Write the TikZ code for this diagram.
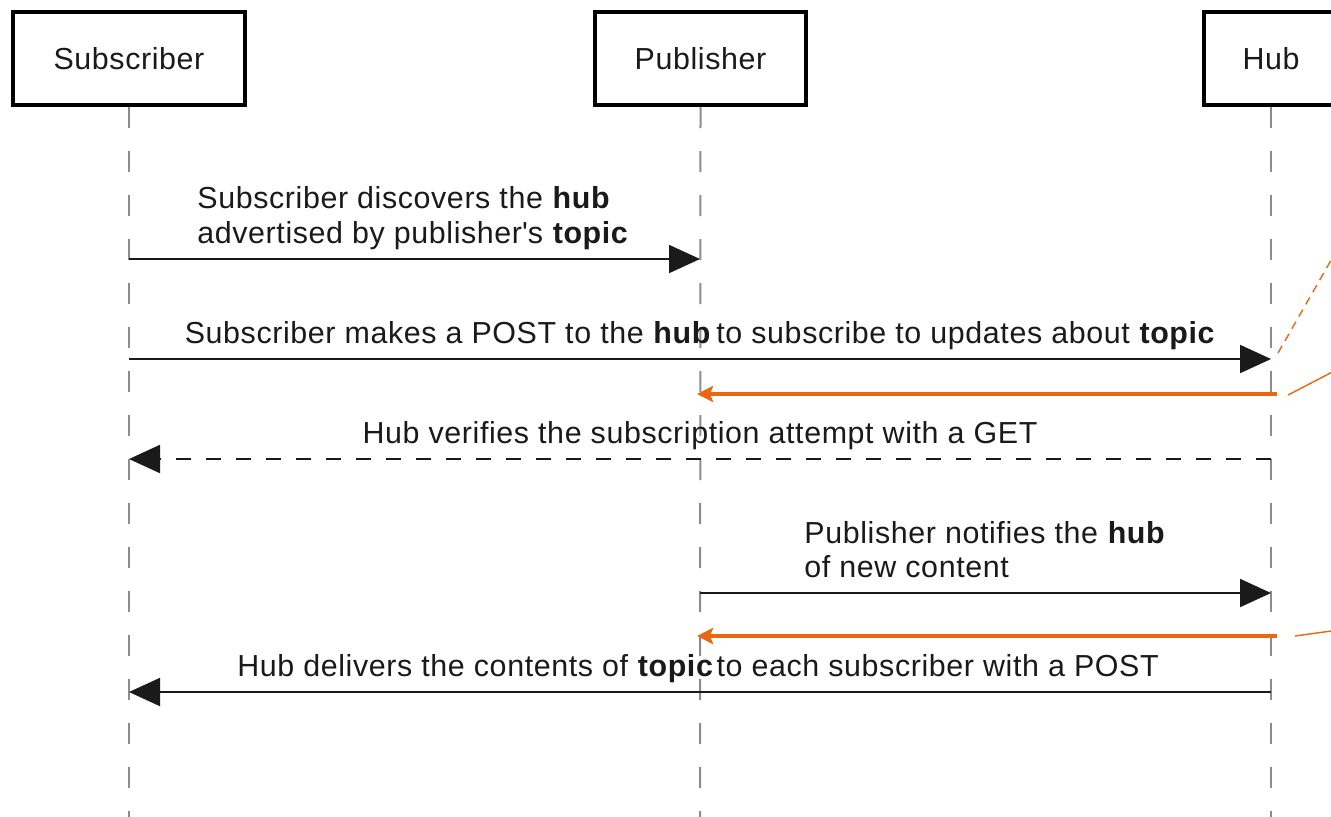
\documentclass[tikz,border=0pt]{standalone}
\usepackage{fontspec}
\setmainfont{Liberation Sans}[LetterSpace=2]
\usetikzlibrary{arrows.meta}
\definecolor{orng}{HTML}{EA6610}
\definecolor{lifegray}{HTML}{8C8C8C}
\definecolor{ink}{HTML}{1A1A1A}
\begin{document}
\begin{tikzpicture}[x=0.5pt,y=-0.5pt,
  actor/.style={draw=black, line width=2pt, fill=white, minimum height=46.5pt,
    inner sep=0pt, font=\fontsize{15.2}{17}\selectfont, text=ink},
  lifeline/.style={draw=lifegray, line width=1pt, dash pattern=on 10.5pt off 11.5pt},
  msg/.style={draw=ink, line width=1pt, -{Triangle[length=15.5pt,width=14pt]}},
  reply/.style={msg, dash pattern=on 7.5pt off 7.5pt},
  hot/.style={draw=orng, line width=1.7pt, -{Stealth[length=8pt,width=8pt,inset=1.5pt]}},
  note/.style={draw=orng, line width=0.7pt},
  lbl/.style={inner sep=0pt, font=\fontsize{15.2}{17}\selectfont, text=ink},
]
\clip (0,0) rectangle (1331,816);
\fill[white] (0,0) rectangle (1331,816);

% actors
\node[actor, minimum width=116pt] (sub) at (129,58.5) {Subscriber};
\node[actor, minimum width=105.5pt] (pub) at (700.5,58.5) {Publisher};
\node[actor, minimum width=67pt] (hub) at (1271,58.5) {Hub};

% lifeline ends
\coordinate (subE) at (129,830);
\coordinate (pubE) at (700,830);
\coordinate (hubE) at (1271,830);
\draw[lifeline] (sub.south) -- (subE);
\draw[lifeline] (pub.south) -- (pubE);
\draw[lifeline] (hub.south) -- (hubE);

% message anchor points
\coordinate (s1) at (129,259);  \coordinate (p1) at (700,259);
\coordinate (s2) at (129,359);  \coordinate (h2) at (1271,359);
\coordinate (h3) at (1277,394); \coordinate (p3) at (697,394);
\coordinate (s4) at (129,459);  \coordinate (h4) at (1271,459);
\coordinate (p5) at (700,593);  \coordinate (h5) at (1271,593);
\coordinate (h6) at (1277,636); \coordinate (p6) at (697,636);
\coordinate (s7) at (129,692);  \coordinate (h7) at (1271,692);

% 1
\node[lbl, anchor=base west] (m1a) at (197,208) {Subscriber discovers the \textbf{hub}};
\node[lbl, anchor=base west] (m1b) at (197,243) {advertised by publisher\textquotesingle s \textbf{topic}};
\draw[msg] (s1) -- (p1);
% 2
\node[lbl, anchor=base] (m2) at (700,343) {Subscriber makes a POST to the \textbf{hub}\hspace{0.18em}to subscribe to updates about \textbf{topic}};
\draw[msg] (s2) -- (h2);
% orange 1
\draw[hot] (h3) -- (p3);
% 3
\node[lbl, anchor=base] (m3) at (700,443) {Hub verifies the subscription attempt with a GET};
\draw[reply] (h4) -- (s4);
% 4
\node[lbl, anchor=base west] (m4a) at (804,543) {Publisher notifies the \textbf{hub}};
\node[lbl, anchor=base west] (m4b) at (804,577) {of new content};
\draw[msg] (p5) -- (h5);
% orange 2
\draw[hot] (h6) -- (p6);
% 5
\node[lbl, anchor=base] (m5) at (698,676) {Hub delivers the contents of \textbf{topic}\hspace{0.1em}to each subscriber with a POST};
\draw[msg] (h7) -- (s7);

% annotation leaders
\coordinate (a1s) at (1278,353); \coordinate (a1e) at (1342,241);
\coordinate (a2s) at (1288,395); \coordinate (a2e) at (1342,367);
\coordinate (a3s) at (1295,636); \coordinate (a3e) at (1342,629.5);
\draw[note, dash pattern=on 4pt off 3pt] (a1s) -- (a1e);
\draw[note] (a2s) -- (a2e);
\draw[note] (a3s) -- (a3e);
\end{tikzpicture}
\end{document}
